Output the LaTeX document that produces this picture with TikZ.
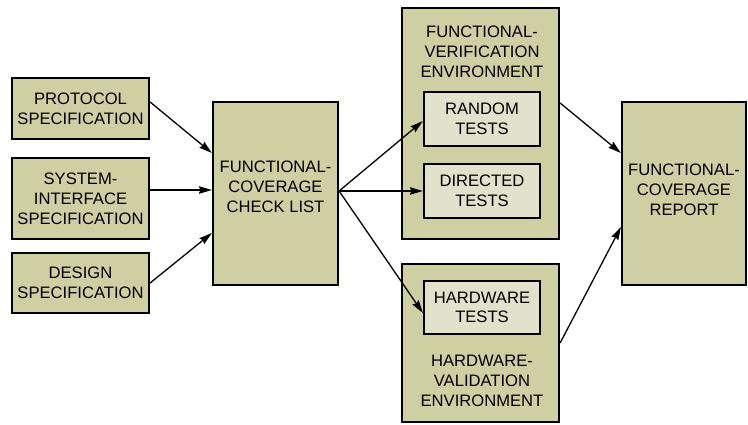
\documentclass[tikz,border=0pt]{standalone}
\usepackage{fontspec}
\setmainfont{Liberation Sans}
\usetikzlibrary{arrows.meta}
\definecolor{boxfill}{RGB}{207,207,164}
\definecolor{innerfill}{RGB}{226,226,204}
\tikzset{
  box/.style={draw=black, line width=2.2pt, fill=boxfill, rectangle, inner sep=0pt},
  inbox/.style={draw=black, line width=2.2pt, fill=innerfill, rectangle, inner sep=0pt, align=center, font=\fontsize{16.6}{19.5}\selectfont},
  lbl/.style={align=center, inner sep=0pt, font=\fontsize{16.6}{20}\selectfont},
  arr/.style={line width=1.3pt, -{Stealth[length=13pt,width=7.5pt,inset=1.5pt]}}
}
\begin{document}
\begin{tikzpicture}[x=1pt,y=-1pt]
\useasboundingbox (0,0) rectangle (748,425);
\fill[white] (0,0) rectangle (748,425);
% left inputs
\node[box, minimum width=137pt, minimum height=61pt, lbl] (prot) at (80.5,108.5) {PROTOCOL\\SPECIFICATION};
\node[box, minimum width=137pt, minimum height=81pt, lbl] (sys) at (80.5,198.5) {SYSTEM-\\INTERFACE\\SPECIFICATION};
\node[box, minimum width=137pt, minimum height=60pt, lbl] (des) at (80.5,283) {DESIGN\\SPECIFICATION};
% check list
\node[box, minimum width=125pt, minimum height=183pt] (chk) at (275.5,193.5) {};
\node[lbl] (chkt) at (275.5,187) {FUNCTIONAL-\\COVERAGE\\CHECK LIST};
% functional verification environment
\node[box, minimum width=157pt, minimum height=231pt] (fv) at (480.5,123.5) {};
\node[lbl] (fvt) at (482,52) {FUNCTIONAL-\\VERIFICATION\\ENVIRONMENT};
\node[inbox, minimum width=116pt, minimum height=54pt] (rnd) at (482,119) {RANDOM\\TESTS};
\node[inbox, minimum width=116pt, minimum height=54pt] (dir) at (482,191) {DIRECTED\\TESTS};
% hardware validation environment
\node[box, minimum width=157pt, minimum height=158pt] (hv) at (480.5,343) {};
\node[inbox, minimum width=116pt, minimum height=53pt] (hw) at (482,307.5) {HARDWARE\\TESTS};
\node[lbl] (hvt) at (482,381) {HARDWARE-\\VALIDATION\\ENVIRONMENT};
% report
\node[box, minimum width=124pt, minimum height=183pt] (rep) at (684,193.5) {};
\node[lbl] (rept) at (684,190) {FUNCTIONAL-\\COVERAGE\\REPORT};
% connectors
\draw[arr] ([yshift=6.5pt]prot.east) -- ([yshift=40.5pt]chk.west);
\draw[arr] ([yshift=8.5pt]sys.east) -- ([yshift=3.5pt]chk.west);
\draw[arr] (des.east) -- ([yshift=-39.5pt]chk.west);
\draw[arr] ([yshift=2.5pt]chk.east) -- ([yshift=-2pt]rnd.west);
\draw[arr] ([yshift=2.5pt]chk.east) -- (dir.west);
\draw[arr] ([yshift=2.5pt]chk.east) -- ([yshift=-5.5pt]hw.west);
\draw[arr] ([yshift=20.5pt]fv.east) -- ([yshift=40.5pt]rep.west);
\draw[arr] ([yshift=0pt]hv.east) -- ([yshift=-33.5pt]rep.west);
\end{tikzpicture}
\end{document}
